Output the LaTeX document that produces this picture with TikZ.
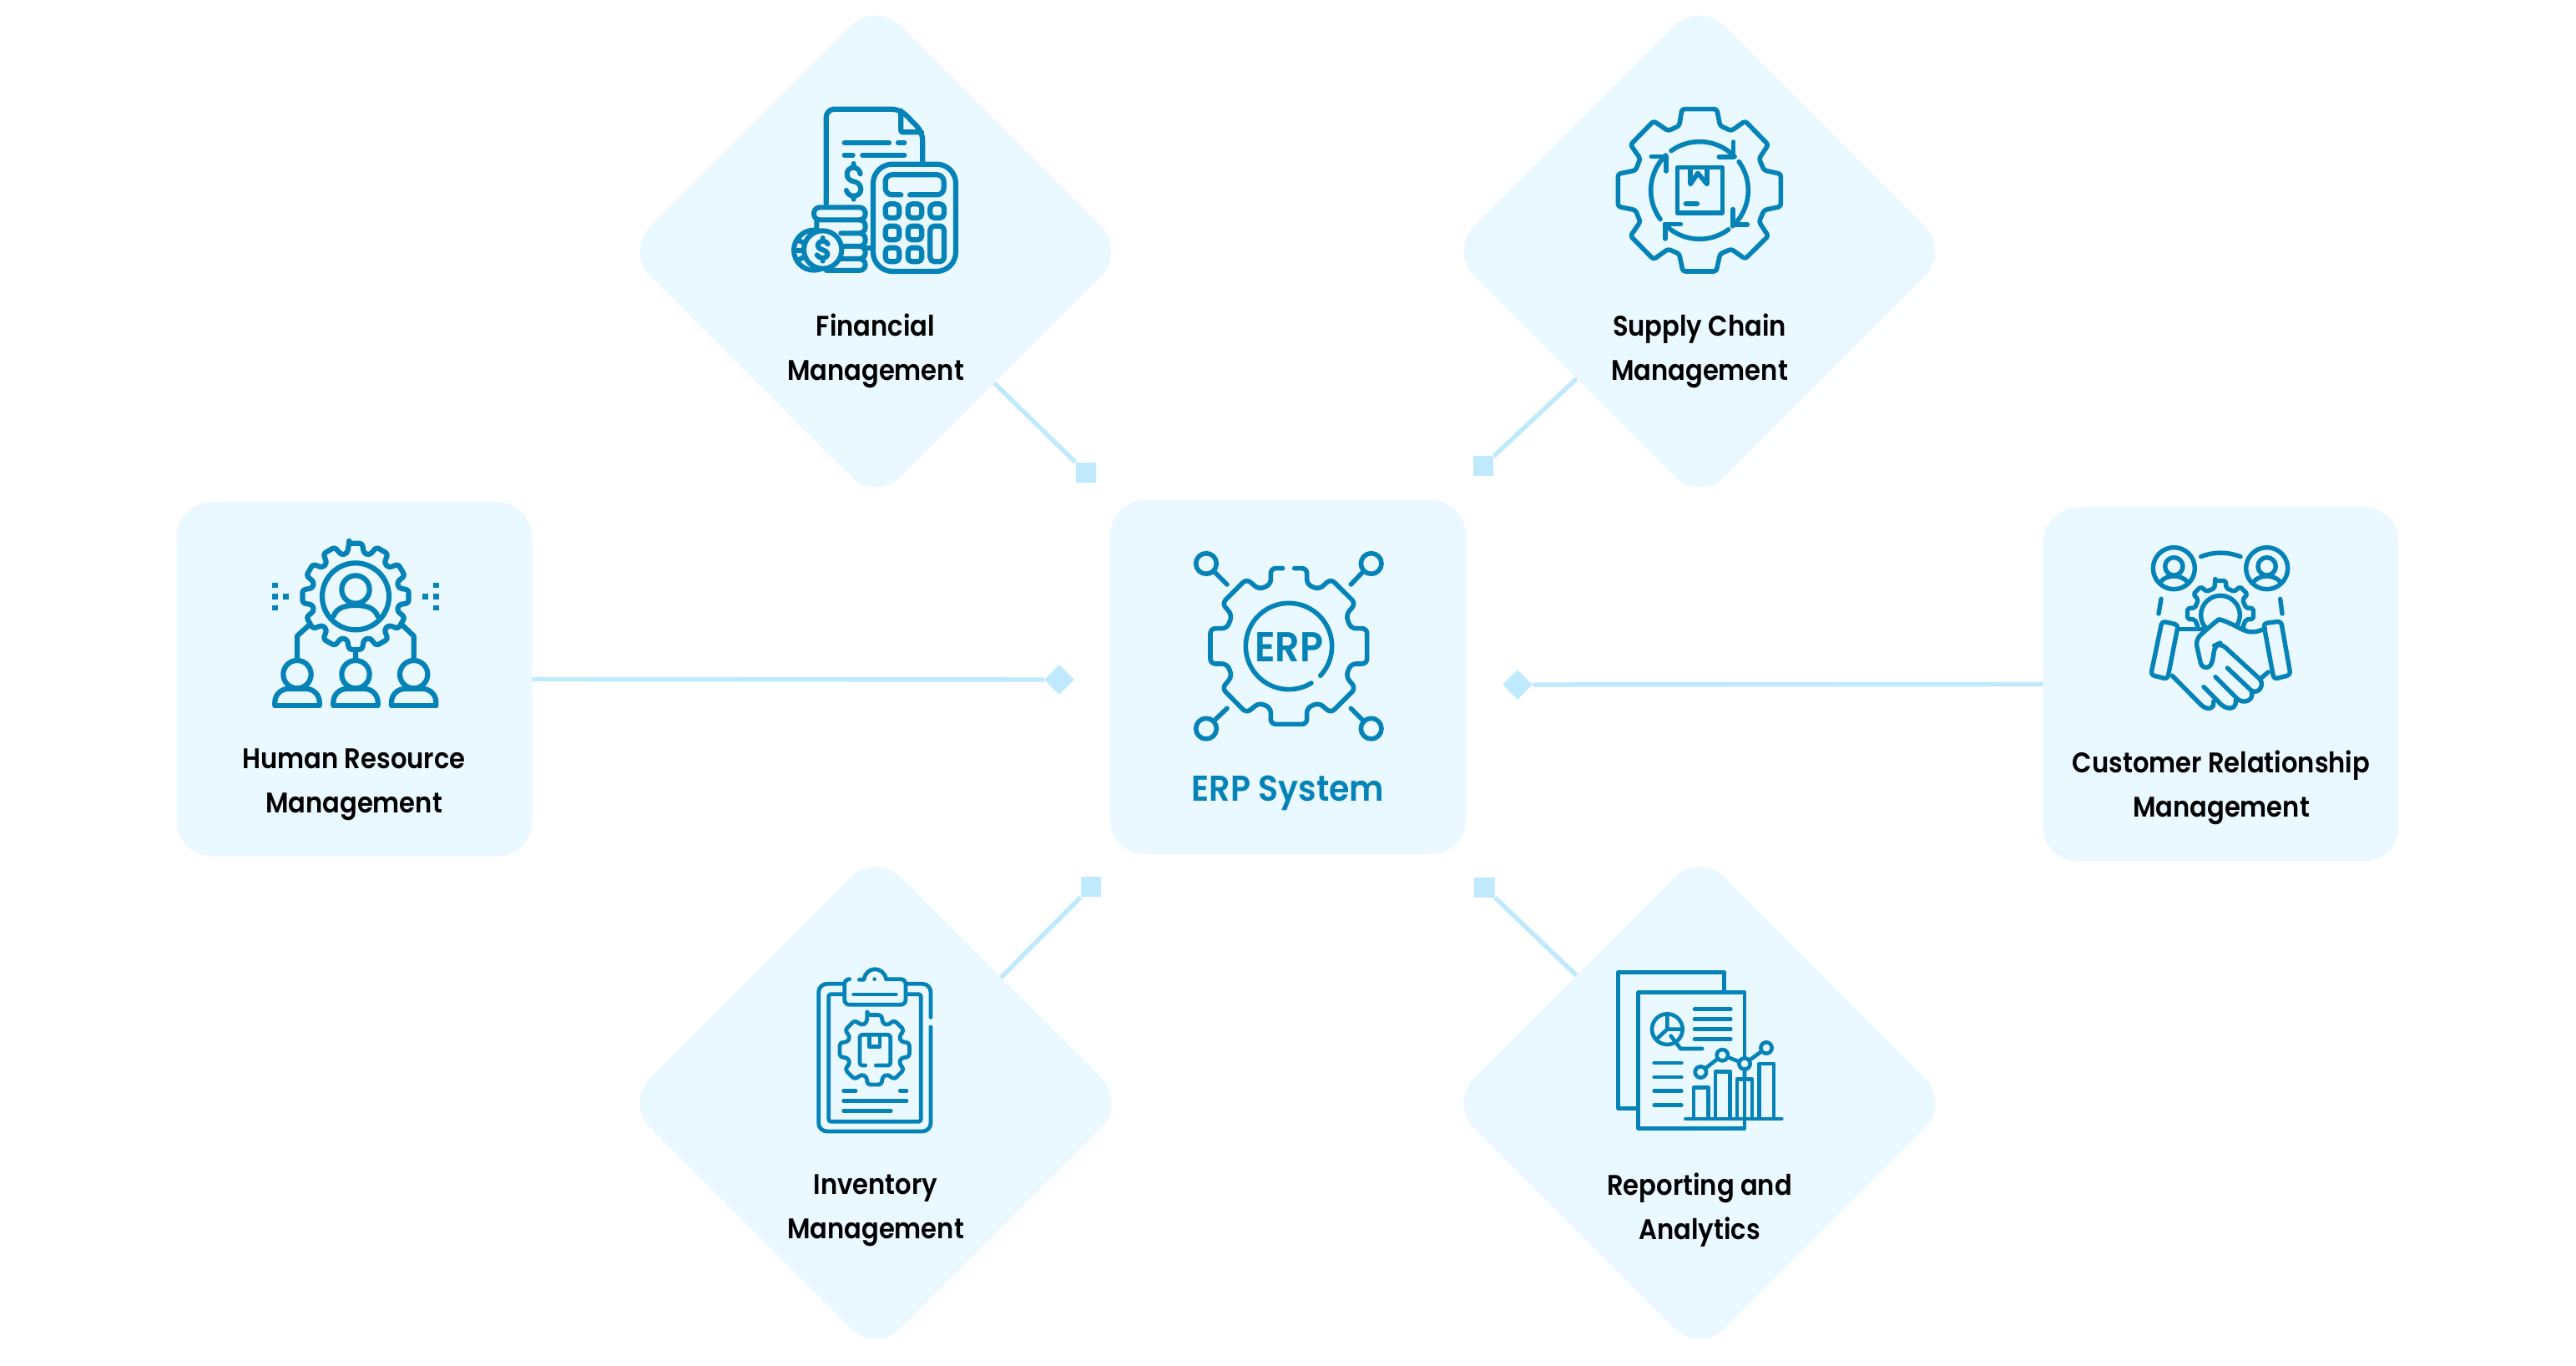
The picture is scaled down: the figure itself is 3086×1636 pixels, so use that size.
\documentclass[tikz,border=0pt]{standalone}
\usepackage{fontspec}
\setmainfont{Poppins SemiBold}[FakeStretch=0.9]
\newfontfamily\erpfont{Poppins SemiBold}[FakeStretch=0.92]
\usetikzlibrary{shapes.geometric}
\definecolor{panel}{HTML}{EAF8FF}
\definecolor{link}{HTML}{BFE9FD}
\definecolor{ink}{HTML}{0583B7}
\tikzset{
  boxn/.style={rectangle,fill=panel,rounded corners=21pt,minimum width=213pt,minimum height=212pt,inner sep=0pt},
  dia/.style={diamond,aspect=1,fill=panel,rounded corners=21pt,minimum width=300pt,minimum height=300pt,inner sep=0pt},
  conn/.style={draw=link,line width=2.7pt},
  sqm/.style={rectangle,fill=link,minimum size=12.2pt,inner sep=0pt},
  dim/.style={diamond,aspect=1,fill=link,minimum size=18pt,inner sep=0pt},
  lbl/.style={align=center,text=black,font=\fontsize{17}{26.5}\selectfont},
  ico/.style={draw=ink,line cap=round,line join=round,line width=#1},
  ico/.default=3pt
}
\begin{document}
\begin{tikzpicture}[x=0.5pt,y=-0.5pt]
\useasboundingbox (0,0) rectangle (3086,1636);
\fill[white] (0,0) rectangle (3086,1636);
% panels
\node[dia] (fin) at (1049,301) {};
\node[dia] (sup) at (2036,301) {};
\node[dia] (inv) at (1049,1321) {};
\node[dia] (rep) at (2036,1321) {};
\node[boxn] (hr) at (424.5,813.5) {};
\node[boxn] (crm) at (2660.5,819.5) {};
\node[boxn] (erp) at (1543,811) {};
% markers
\node[sqm] (mfin) at (1301,566) {};
\node[sqm] (msup) at (1777,558) {};
\node[sqm] (minv) at (1307,1062) {};
\node[sqm] (mrep) at (1778.5,1063) {};
\node[dim] (mhr) at (1269,814) {};
\node[dim] (mcrm) at (1818,820) {};
% connectors
\draw[conn] (fin.-48) -- (mfin);
\draw[conn] (sup.-134.8) -- (msup);
\draw[conn] (inv.45.2) -- (minv);
\draw[conn] (rep.134.8) -- (mrep);
\draw[conn] (hr) ++(213,0) -- (mhr);
\draw[conn] (crm) ++(-213,0) -- (mcrm);
% labels
\node[lbl] (tfin) at (1049,420) {Financial\\Management};
\node[lbl] (tsup) at (2036,420) {Supply Chain\\Management};
\node[lbl] (tinv) at (1049,1450) {Inventory\\Management};
\node[lbl] (trep) at (2036,1449) {Reporting and\\Analytics};
\node[lbl] (thr) at (424,940) {Human Resource\\Management};
\node[lbl] (tcrm) at (2661,943) {Customer Relationship\\Management};
\node[text=ink,font=\erpfont\fontsize{21.5}{24}\selectfont] (terp) at (1543,950) {ERP System};
% ---- financial icon
\begin{scope}[shift={(920,100)},scale=1/3]
\draw[ico=3.1pt,rounded corners=5pt] (209,432) -- (209,92) -- (475,92) -- (556,175) -- (556,285);
\draw[ico=3.1pt,rounded corners=1pt] (478,98) -- (478,175) -- (552,175);
\draw[ico=3.1pt] (275,213)--(435,213) (468,213)--(490,213) (275,257)--(305,257) (340,257)--(490,257);
\draw[ico=3pt] (332,325) .. controls (330,310) and (318,302) .. (308,302) .. controls (292,302) and (284,314) .. (284,326) .. controls (284,342) and (296,350) .. (308,352) .. controls (322,354) and (334,364) .. (334,380) .. controls (334,395) and (322,404) .. (308,404) .. controls (296,404) and (284,396) .. (282,384) (308,288)--(308,302) (308,404)--(308,416);
\draw[ico=3.1pt,rounded corners=11.5pt] (378,290) rectangle (675,675);
\draw[ico=3.1pt,rounded corners=4pt] (478,400) -- (422,400) -- (422,328) -- (632,328) -- (632,400) -- (510,400);
\foreach \cx in {422,503,583} \foreach \cy in {433}
  \draw[ico=3.1pt,rounded corners=2.5pt] (\cx,\cy) rectangle ++(50,50);
\foreach \cx in {422,503} \foreach \cy in {512,590}
  \draw[ico=3.1pt,rounded corners=2.5pt] (\cx,\cy) rectangle ++(50,50);
\draw[ico=3.1pt,rounded corners=2.5pt] (583,512) rectangle (633,640);
\draw[ico=3pt,rounded corners=3.5pt] (240,445) -- (165,445) -- (165,490) -- (240,490) (240,445) -- (350,445) -- (350,490) -- (240,490);
\draw[ico=3pt,rounded corners=3.5pt] (175,495) -- (175,533) (340,490) -- (350,490) -- (350,538) -- (262,538);
\draw[ico=3pt,rounded corners=3.5pt] (340,538) -- (350,538) -- (350,585) -- (262,585);
\draw[ico=3pt,rounded corners=3.5pt] (340,585) -- (350,585) -- (350,630) -- (262,630);
\draw[ico=3pt,rounded corners=3.5pt] (340,630) -- (350,630) -- (350,672) -- (210,672);
\draw[ico=3pt] (352,590)--(378,590);
\filldraw[ico=3pt,fill=panel] (165,599) circle (72);
\filldraw[ico=3pt,fill=panel] (197,597) circle (68);
\draw[ico=3pt] (112,565)--(128,572) (100,600)--(118,600) (112,632)--(128,625);
\draw[ico=3pt] (215,577) .. controls (210,566) and (198,566) .. (192,567) .. controls (180,570) and (176,582) .. (182,590) .. controls (188,598) and (210,598) .. (214,610) .. controls (216,622) and (204,627) .. (195,627) .. controls (187,627) and (180,622) .. (176,616) (197,555)--(197,566) (197,627)--(197,638);
\end{scope}
% ---- supply icon
\begin{scope}[shift={(1900,100)},scale=1/3]
\draw[ico=2.8pt,rounded corners=1.5pt] (345,92)--(470,92)--(482,152)--(522,170)--(572,135)--(655,220)--(622,270)--(640,312)--(700,325)--(700,442)--(640,455)--(622,497)--(655,548)--(572,630)--(522,595)--(482,612)--(468,675)--(348,675)--(335,612)--(295,595)--(243,632)--(160,548)--(195,497)--(178,455)--(115,442)--(115,325)--(178,312)--(195,270)--(160,220)--(243,135)--(295,170)--(335,152)--cycle;
\draw[ico=2.8pt] (408,384) ++(234.3:175) arc (234.3:316.2:175);
\draw[ico=2.8pt] (408,384) ++(-36:175) arc (-36:47.2:175);
\draw[ico=2.8pt] (408,384) ++(53.5:175) arc (53.5:135.5:175);
\draw[ico=2.8pt] (408,384) ++(143.7:175) arc (143.7:226:175);
\draw[ico=2.8pt] (530,210)--(530,264)--(478,264) (528,452)--(528,507)--(580,507) (285,558)--(285,505)--(340,505) (288,315)--(288,262)--(235,262);
\draw[ico=2.8pt] (328,302) rectangle (490,465);
\draw[ico=2.8pt] (375,305)--(375,362)--(402,322)--(435,362)--(435,305) (358,432)--(400,432);
\end{scope}
% ---- HR icon
\begin{scope}[shift={(300,630)},scale=1/3]
\begin{scope}[shift={(378,253)}]
\draw[ico=3.1pt,rounded corners=1.5pt] (263:192) \foreach \k in {0,...,11} { -- ({270+\k*30-7}:192) -- ({270+\k*30+7}:192) -- ({270+\k*30+11}:158) -- ({270+\k*30+19}:158)} -- cycle;
\draw[ico=3.1pt] (0,0) circle (120);
\draw[ico=3.1pt] (0,-25) circle (50);
\draw[ico=3.1pt] (-80,72) .. controls (-68,38) and (-32,32) .. (0,32) .. controls (32,32) and (68,38) .. (80,72);
\end{scope}
\draw[ico=3.1pt] (378,450)--(378,480) (212,355)--(168,395)--(168,480) (545,355)--(587,395)--(587,480);
\foreach \px in {168,378,587} {
  \draw[ico=3.1pt] (\px,533) circle (50);
  \draw[ico=3.1pt,rounded corners=8pt] (\px-80,645) -- (\px-80,585) -- (\px+80,585) -- (\px+80,645);
  \draw[ico=3.1pt,line cap=butt] (\px-84,645) -- (\px+84,645);
}
\foreach \dx/\dy in {88/213,88/254,88/294,128/254,668/213,668/254,668/294,628/254}
  \fill[ink] (\dx-10,\dy-10) rectangle (\dx+10,\dy+10);
\end{scope}
% ---- ERP icon
\begin{scope}[shift={(1410,640)},scale=1/3]
\draw[ico=2.8pt,rounded corners=3pt] (380,122)--(337,122)--(337,180)--(295,198)--(250,160)--(162,248)--(198,290)--(180,338)--(120,338)--(120,465)--(180,465)--(198,510)--(162,553)--(250,642)--(295,605)--(337,623)--(337,682)--(467,682)--(467,623)--(510,605)--(553,642)--(642,553)--(607,510)--(625,465)--(683,465)--(683,338)--(625,338)--(607,290)--(642,248)--(553,160)--(510,198)--(467,180)--(467,122)--(422,122);
\draw[ico=2.8pt] (402,402) ++(58.6:155) arc (58.6:403:155);
\foreach \cx/\cy/\sx/\sy/\ex/\ey in {105/105/135/135/180/180,698/105/668/135/625/180,105/698/135/668/180/625,698/698/668/668/625/625} {
  \draw[ico=2.8pt] (\cx,\cy) circle (37);
  \draw[ico=2.8pt] (\sx,\sy)--(\ex,\ey);
}
\node[text=ink,font=\erpfont\fontsize{25}{26}\selectfont] (terpi) at (402,404) {ERP};
\end{scope}
% ---- CRM icon
\begin{scope}[shift={(2570,640)},scale=1/3]
\foreach \cx in {103,437} {
  \draw[ico=2.7pt] (\cx,122) circle (75);
  \draw[ico=2.7pt] (\cx,115) circle (32);
  \draw[ico=2.7pt] (\cx-48,170) .. controls (\cx-35,155) and (\cx-15,150) .. (\cx,150) .. controls (\cx+15,150) and (\cx+35,155) .. (\cx+48,170);
}
\draw[ico=2.7pt] (200,80) .. controls (245,62) and (295,62) .. (342,80);
\draw[ico=2.7pt] (57,232)--(48,285) (485,232)--(492,285);
\begin{scope}[shift={(270,285)}]
\draw[ico=2.7pt,rounded corners=1pt] (261:120) \foreach \k in {0,...,7} { -- ({270+\k*45-9}:120) -- ({270+\k*45+9}:120) -- ({270+\k*45+13}:94) -- ({270+\k*45+32}:94)} -- cycle;
\draw[ico=2.7pt] (0,5) circle (70);
\end{scope}
\fill[panel] (100,345) -- (205,345) -- (270,310) -- (345,345) -- (430,340) -- (445,495) -- (400,570) -- (230,635) -- (100,510) -- cycle;
\draw[ico=2.7pt,rounded corners=2pt] (60,312)--(118,325)--(80,520)--(20,505)--cycle;
\draw[ico=2.7pt,rounded corners=2pt] (425,320)--(488,312)--(522,505)--(462,520)--cycle;
\draw[ico=2.7pt] (118,340)--(205,340);
\draw[ico=2.7pt] (97,508)--(200,612) .. controls (220,632) and (250,630) .. (245,600);
\draw[ico=2.7pt] (210,548)--(262,600) .. controls (285,632) and (330,635) .. (325,595);
\draw[ico=2.7pt] (252,512)--(330,590) .. controls (350,610) and (392,600) .. (382,565);
\draw[ico=2.7pt] (295,480)--(382,562) .. controls (410,575) and (428,540) .. (412,520);
\draw[ico=2.7pt] (412,520)--(442,495);
\draw[ico=2.7pt,rounded corners=3pt] (345,340) .. controls (380,358) and (405,350) .. (430,338);
\draw[ico=2.7pt,rounded corners=4pt] (412,520) -- (270,390) -- (248,400) .. controls (245,440) and (240,472) .. (204,485) -- (180,378) -- (245,320) .. controls (265,305) and (285,308) .. (345,340);
\end{scope}
% ---- inventory icon
\begin{scope}[shift={(950,1140)},scale=1/3]
\draw[ico=2.4pt,rounded corners=5pt] (180,115)--(92,115)--(92,645)--(495,645)--(495,270);
\draw[ico=2.4pt,rounded corners=5pt] (495,235)--(495,115)--(410,115);
\draw[ico=2.4pt,rounded corners=1.5pt] (178,152)--(128,152)--(128,610)--(460,610)--(460,152)--(410,152);
\draw[ico=2.4pt,rounded corners=3pt] (200,98)--(185,98)--(185,190)--(405,190)--(405,98)--(335,98);
\draw[ico=2.4pt] (238,100)--(255,100) .. controls (262,50) and (325,50) .. (335,98);
\fill[ink] (293,98) circle (7);
\draw[ico=2.4pt] (218,153)--(370,153);
\begin{scope}[shift={(293,352)}]
\draw[ico=2.4pt,rounded corners=2pt] (258:128) \foreach \k in {0,...,7} { -- ({270+\k*45-12}:128) -- ({270+\k*45+12}:128) -- ({270+\k*45+16}:100) -- ({270+\k*45+29}:100)} -- cycle;
\end{scope}
\draw[ico=2.4pt,rounded corners=1.5pt] (260,408)--(240,408)--(240,298)--(350,298)--(350,408)--(298,408);
\draw[ico=2.4pt] (275,300)--(275,340)--(312,340)--(312,300);
\draw[ico=2.4pt] (182,499)--(225,499) (385,499)--(408,499) (182,535)--(408,535) (182,572)--(352,572);
\end{scope}
% ---- reporting icon
\begin{scope}[shift={(1920,1150)},scale=1/3]
\draw[ico=2.3pt] (125,532)--(55,532)--(55,43)--(437,43)--(437,110);
\draw[ico=2.3pt] (128,116) rectangle (510,604);
\draw[ico=2.3pt] (232,248) circle (55);
\draw[ico=2.3pt] (232,192)--(232,248)--(288,248) (232,248)--(192,285) (245,272)--(280,318)--(358,318);
\foreach \ly in {176,212,248,284} \draw[ico=2.3pt] (330,\ly)--(460,\ly);
\foreach \ly in {369,420,470,521} \draw[ico=2.3pt] (185,\ly)--(283,\ly);
\filldraw[ico=2.3pt,fill=panel] (327,570)--(327,458)--(380,458)--(380,570);
\filldraw[ico=2.3pt,fill=panel] (405,570)--(405,400)--(458,400)--(458,570);
\draw[ico=2.3pt] (483,570)--(483,428)--(537,428)--(537,570);
\filldraw[ico=2.3pt,fill=panel] (562,570)--(562,372)--(615,372)--(615,570);
\draw[ico=2.3pt] (298,570)--(643,570);
\draw[ico=2.3pt] (352,402)--(430,341)--(510,372)--(588,315) (510,372)--(510,428);
\foreach \cx/\cy in {352/402,430/341,510/372,588/315}
  \filldraw[ico=2.3pt,fill=panel] (\cx,\cy) circle (20);
\end{scope}
\end{tikzpicture}
\end{document}
